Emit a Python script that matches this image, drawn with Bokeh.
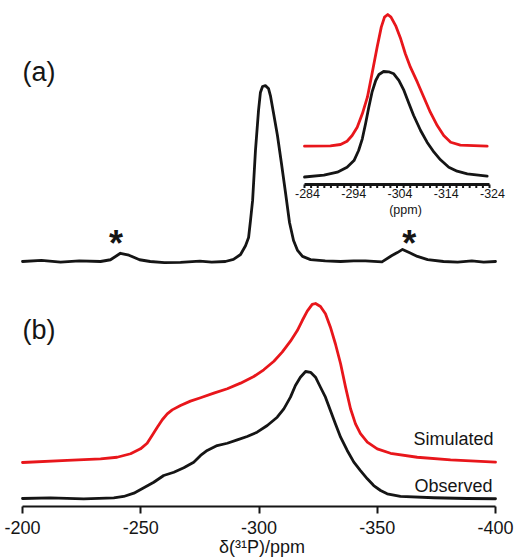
from bokeh.plotting import figure
from bokeh.models import Range1d, Label, FixedTicker
from bokeh.embed import file_html
from bokeh.resources import INLINE
import numpy as np

# ---------------- data ----------------
# (a) 31P MAS spectrum, observed
spec_a_ppm = [-200, -208, -216.1, -224, -233.0, -237.2, -241.4, -245, -249.5, -254,
              -260, -266.8, -275, -280, -285.8, -289.2, -292.2, -294.3, -295.6, -296.4,
              -297.3, -298.5, -299.8, -300.6, -301.5, -302.7, -304.0, -304.9, -306.1,
              -307.8, -309.5, -311.2, -312.9, -314.6, -316.3, -318.4, -321.8, -328,
              -334.5, -340, -345, -352, -356.2, -358.5, -360.7, -363.5, -367.0, -371.3,
              -378, -384, -390, -395, -400]
spec_a_int = [0, 0.6, -0.4, 0.3, 0, 1.0, 4.7, 3.6, 1.0, 0,
              -0.6, -0.5, 0.2, -0.3, 0, 1.2, 4.0, 9.0, 13.7, 23.4,
              34.9, 63.4, 86.3, 96.6, 100, 100.5, 98.9, 94.3, 85.1,
              72, 56, 39.4, 22.3, 12, 6.3, 2.9, 1.1, 0.3,
              0, 0.4, 0.3, -0.2, 3.4, 5.1, 6.9, 5.1, 2.9, 1.1,
              0, -0.4, 0.3, -0.3, 0]
sideband_star_ppm = [-239.5, -363.5]

# inset: expanded central line, observed (black) and simulated (red)
inset_obs_ppm = [-284, -288.2, -291.1, -293.2, -294.7, -295.7, -296.5, -297.2, -297.9,
                 -298.6, -299.4, -300.1, -301.1, -302.2, -303.3, -304.4, -305.5, -306.6,
                 -307.6, -309.1, -310.5, -312.0, -313.4, -315.2, -317.0, -319.2, -323.5]
inset_obs_int = [0, 1.7, 4.6, 9.3, 15.6, 25.1, 36.2, 50.4, 66.2,
                 80.4, 91.5, 97.2, 100, 99.7, 97.8, 91.5, 82, 69.4,
                 58.3, 44.1, 33, 23.5, 16.3, 9.3, 5.5, 3, 0.8]
inset_sim_ppm = [-284, -289.6, -291.8, -293.2, -294.3, -295.4, -296.5, -297.6, -298.6,
                 -299.7, -300.6, -301.3, -302.0, -302.7, -303.7, -304.8, -305.8, -306.9,
                 -308.4, -309.8, -311.2, -312.7, -314.1, -315.6, -317.7, -323.5]
inset_sim_int = [0, 0.3, 1.3, 3.8, 8.1, 14.4, 24.6, 37.2, 55,
                 75.2, 90.4, 98, 100, 98, 91.6, 81.5, 70.2, 60,
                 48.6, 37.2, 25.8, 15.7, 8.1, 3, 0.8, 0]
inset_ticks = [-284, -294, -304, -314, -324]
inset_tick_labels = ["-284", "-294", "-304", "-314", "-324"]

# (b) static spectrum: simulated (red) and observed (black)
sim_b_ppm = [-200, -218.9, -233.0, -240.0, -245.7, -249.9, -252.7, -254.8, -257.0, -259.1,
             -261.2, -263.3, -266.8, -271.0, -275.3, -280.9, -286.6, -292.2, -297.8,
             -302.0, -306.3, -309.8, -313.3, -316.2, -318.3, -320.4, -322.5, -323.9,
             -326.0, -328.1, -330.2, -332.3, -334.5, -336.6, -338.7, -340.8, -342.9,
             -345.8, -350.0, -355.6, -366.9, -381.0, -400]
sim_b_int = [0, 1.3, 2.3, 3.3, 5.5, 8.6, 12.1, 17, 22.2, 26.9,
             30.6, 33.1, 35.8, 38.6, 40.7, 43.6, 46.4, 49.9, 54.1,
             58.3, 63.7, 69.4, 76.3, 83, 89.3, 95.2, 99.4, 100,
             98.1, 93.5, 85.1, 74.7, 62.1, 47.4, 33.8, 24.3, 18.1,
             12.8, 8.6, 5.8, 3.3, 1.7, 0.2]
obs_b_ppm = [-200, -211.8, -225.9, -238.6, -242.8, -247.1, -251.3, -255.5, -259.7, -264.0,
             -268.2, -272.4, -275.3, -278.1, -282.3, -286.6, -290.8, -295.0, -299.2,
             -303.5, -307.7, -310.5, -313.3, -315.4, -317.5, -319.7, -321.8, -323.9,
             -326.0, -328.1, -330.2, -332.3, -334.5, -337.3, -340.1, -342.9, -345.8,
             -348.5, -351.4, -354.2, -359.8, -373.9, -388.0, -400]
obs_b_int = [0, 0.5, -0.3, 0.5, 1.6, 4.2, 8.4, 12.8, 18.1, 20.7,
             24.2, 28.6, 33.9, 37.8, 41.7, 43.5, 46.2, 48.8, 52.2,
             57.5, 64, 70.6, 79.8, 89, 95.5, 100, 99.4, 95.5,
             87.6, 79.8, 69.3, 58.8, 48.3, 37.8, 28.6, 22, 15.5,
             10.2, 6.3, 3.7, 1.6, 0.6, 0, -0.2]

x_ticks = [-200, -250, -300, -350, -400]
x_tick_labels = ["-200", "-250", "-300", "-350", "-400"]
x_label = "δ(³¹P)/ppm"

# ---------------- layout (page pixels) ----------------
W, H = 523, 560
BB = 54                      # space below the frame for the axis
FH = H - BB                  # frame height (frame top = 0)
AX_L, AX_R = 22.0, 495.0     # where -200 and -400 sit
FONT = "Liberation Sans"
RED = "#e8161b"
BLACK = "#151515"

k_main = 200.0 / (AX_R - AX_L)
p = figure(width=W, height=H, output_backend="svg", toolbar_location=None,
           x_range=Range1d(-200 + AX_L * k_main, -400 - (W - AX_R) * k_main),
           y_range=Range1d(FH, 0),
           x_axis_location="below", y_axis_location=None,
           min_border_left=0, min_border_right=0, min_border_top=0,
           min_border_bottom=BB)
p.outline_line_color = None
p.xgrid.visible = False
p.ygrid.visible = False
p.background_fill_color = "white"
p.border_fill_color = "white"

p.extra_x_ranges["px"] = Range1d(0, W)


def stack_range(base_px, peak_px):
    """intensity range: 0 sits at base_px, 100 at peak_px (page px from top)"""
    s = (base_px - peak_px) / 100.0
    return Range1d(-(FH - base_px) / s, base_px / s)


p.extra_y_ranges["a"] = stack_range(261, 86)
p.extra_y_ranges["ins_sim"] = stack_range(145.7, 14)
p.extra_y_ranges["ins_obs"] = stack_range(176.5, 71)
p.extra_y_ranges["sim"] = stack_range(462, 303)
p.extra_y_ranges["obs"] = stack_range(498, 371)

# inset x-range: -284 at x 304, -324 at x 489
ipx0, ipx1 = 304.0, 489.0
k_in = 40.0 / (ipx1 - ipx0)
p.extra_x_ranges["inset"] = Range1d(-284 + ipx0 * k_in, -284 - (W - ipx0) * k_in)

LW = 2.8
kw = dict(line_join="round", line_cap="round")
p.line(spec_a_ppm, spec_a_int, y_range_name="a", line_color=BLACK, line_width=LW, **kw)
p.line(sim_b_ppm, sim_b_int, y_range_name="sim", line_color=RED, line_width=LW, **kw)
p.line(obs_b_ppm, obs_b_int, y_range_name="obs", line_color=BLACK, line_width=LW, **kw)
p.line(inset_sim_ppm, inset_sim_int, x_range_name="inset", y_range_name="ins_sim",
       line_color=RED, line_width=LW, **kw)
p.line(inset_obs_ppm, inset_obs_int, x_range_name="inset", y_range_name="ins_obs",
       line_color=BLACK, line_width=LW, **kw)

# inset axis
iy = 184
p.segment(x0=[inset_ticks[0]], x1=[inset_ticks[-1]], y0=[iy], y1=[iy],
          x_range_name="inset", line_color=BLACK, line_width=3)
minor = list(np.linspace(inset_ticks[0], inset_ticks[-1], 29))
p.segment(x0=minor, x1=minor, y0=[iy] * len(minor), y1=[iy + 3.5] * len(minor),
          x_range_name="inset", line_color=BLACK, line_width=2)
for t, lab in zip(inset_ticks, inset_tick_labels):
    p.add_layout(Label(x=t, y=193, text=lab, x_range_name="inset",
                       text_align="center", text_baseline="middle", x_offset=3,
                       text_font=FONT, text_font_size="12.5px", text_color=BLACK))
p.add_layout(Label(x=405, y=209, text="(ppm)", x_range_name="px",
                   text_align="center", text_baseline="middle",
                   text_font=FONT, text_font_size="12.5px", text_color=BLACK))

# main x axis
ax = p.xaxis[0]
ax.bounds = (-400, -200)
ax.ticker = FixedTicker(ticks=x_ticks)
ax.major_label_overrides = dict(zip(x_ticks, x_tick_labels))
ax.major_label_text_font = FONT
ax.major_label_text_font_size = "18px"
ax.major_label_text_color = BLACK
ax.major_label_standoff = 7
ax.major_tick_out = 7
ax.major_tick_in = 0
ax.minor_tick_out = 0
ax.minor_tick_in = 0
ax.axis_line_width = 2
ax.major_tick_line_width = 2
ax.axis_line_color = BLACK
ax.major_tick_line_color = BLACK
ax.axis_label = x_label
ax.axis_label_text_font = FONT
ax.axis_label_text_font_size = "18px"
ax.axis_label_text_font_style = "normal"
ax.axis_label_text_color = BLACK
ax.axis_label_standoff = 0

# panel letters and trace names
def px_label(x, y, text, size, align="left"):
    p.add_layout(Label(x=x, y=y, x_range_name="px", text=text, text_align=align,
                       text_baseline="middle", text_font=FONT, text_font_size=size,
                       text_color=BLACK))


px_label(22, 71.5, "(a)", "27px")
px_label(22, 329, "(b)", "27px")
px_label(493, 438.5, "Simulated", "18px", "right")
px_label(492, 485, "Observed", "18px", "right")

# spinning sideband markers
for sx in sideband_star_ppm:
    p.add_layout(Label(x=sx, y=243, text="*", text_align="center",
                       text_baseline="alphabetic", text_font=FONT, text_font_size="36px",
                       text_font_style="bold", text_color=BLACK))

open("out.html", "w").write(file_html(p, INLINE))
